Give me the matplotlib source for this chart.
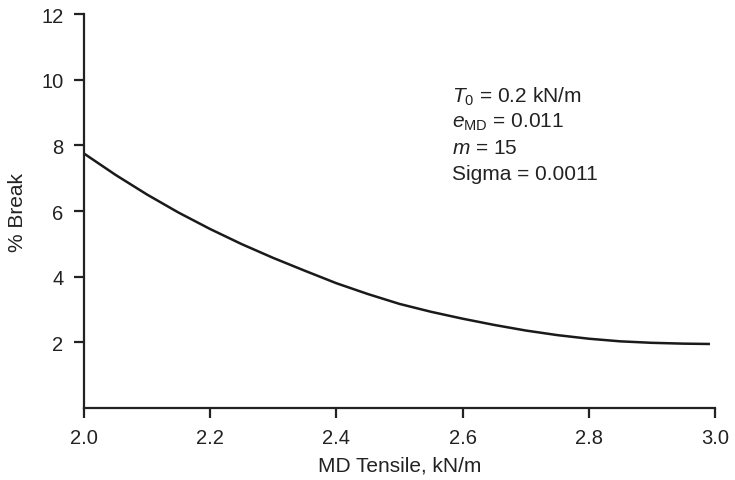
import matplotlib
matplotlib.use("Agg")
import matplotlib.pyplot as plt

plt.rcParams['font.family'] = ['Liberation Sans', 'DejaVu Sans']
plt.rcParams['mathtext.fontset'] = 'custom'
plt.rcParams['mathtext.rm'] = 'Liberation Sans'
plt.rcParams['mathtext.it'] = 'Liberation Sans:italic'

# MD tensile (kN/m) vs. percent break
md_tensile = [2.00, 2.05, 2.10, 2.15, 2.20, 2.25, 2.30, 2.35, 2.40, 2.45, 2.50,
              2.55, 2.60, 2.65, 2.70, 2.75, 2.80, 2.85, 2.90, 2.95, 2.99]
pct_break = [7.75, 7.10, 6.50, 5.95, 5.45, 4.99, 4.57, 4.18, 3.80, 3.47, 3.17,
             2.93, 2.72, 2.53, 2.36, 2.22, 2.11, 2.03, 1.985, 1.96, 1.95]

x_ticks = [2.0, 2.2, 2.4, 2.6, 2.8, 3.0]
y_ticks = [2, 4, 6, 8, 10, 12]
param_lines = [r"$T_0$ = 0.2 kN/m",
               r"$e_{\mathrm{MD}}$ = 0.011",
               r"$m$ = 15",
               "Sigma = 0.0011"]

fig = plt.figure(figsize=(7.35, 4.81), dpi=100)
ax = fig.add_axes([0.1143, 0.1497, 0.8585, 0.8191])

ax.plot(md_tensile, pct_break, color='#1a1a1a', lw=1.8)

ax.set_xlim(2.0, 3.0)
ax.set_ylim(0, 12)
ax.set_xticks(x_ticks)
ax.set_xticklabels([f"{v:.1f}" for v in x_ticks])
ax.set_yticks(y_ticks)
ax.set_yticklabels([str(v) for v in y_ticks])

for side in ('top', 'right'):
    ax.spines[side].set_visible(False)
for side in ('left', 'bottom'):
    ax.spines[side].set_linewidth(1.6)
    ax.spines[side].set_color('#222222')

ax.tick_params(direction='out', length=7.3, width=1.6, color='#222222',
               labelsize=14.5, labelcolor='#222222')
ax.tick_params(axis='x', pad=7)
ax.tick_params(axis='y', pad=7.5)

ax.set_xlabel("MD Tensile, kN/m", fontsize=15, color='#222222', labelpad=6)
ax.set_ylabel("% Break", fontsize=15, color='#222222', labelpad=10)

y0 = 0.792
for i, line in enumerate(param_lines):
    ax.text(0.583, y0 - i * 0.0655, line, transform=ax.transAxes,
            fontsize=15, color='#222222', va='center', ha='left')

fig.savefig("out.png", dpi=100)
